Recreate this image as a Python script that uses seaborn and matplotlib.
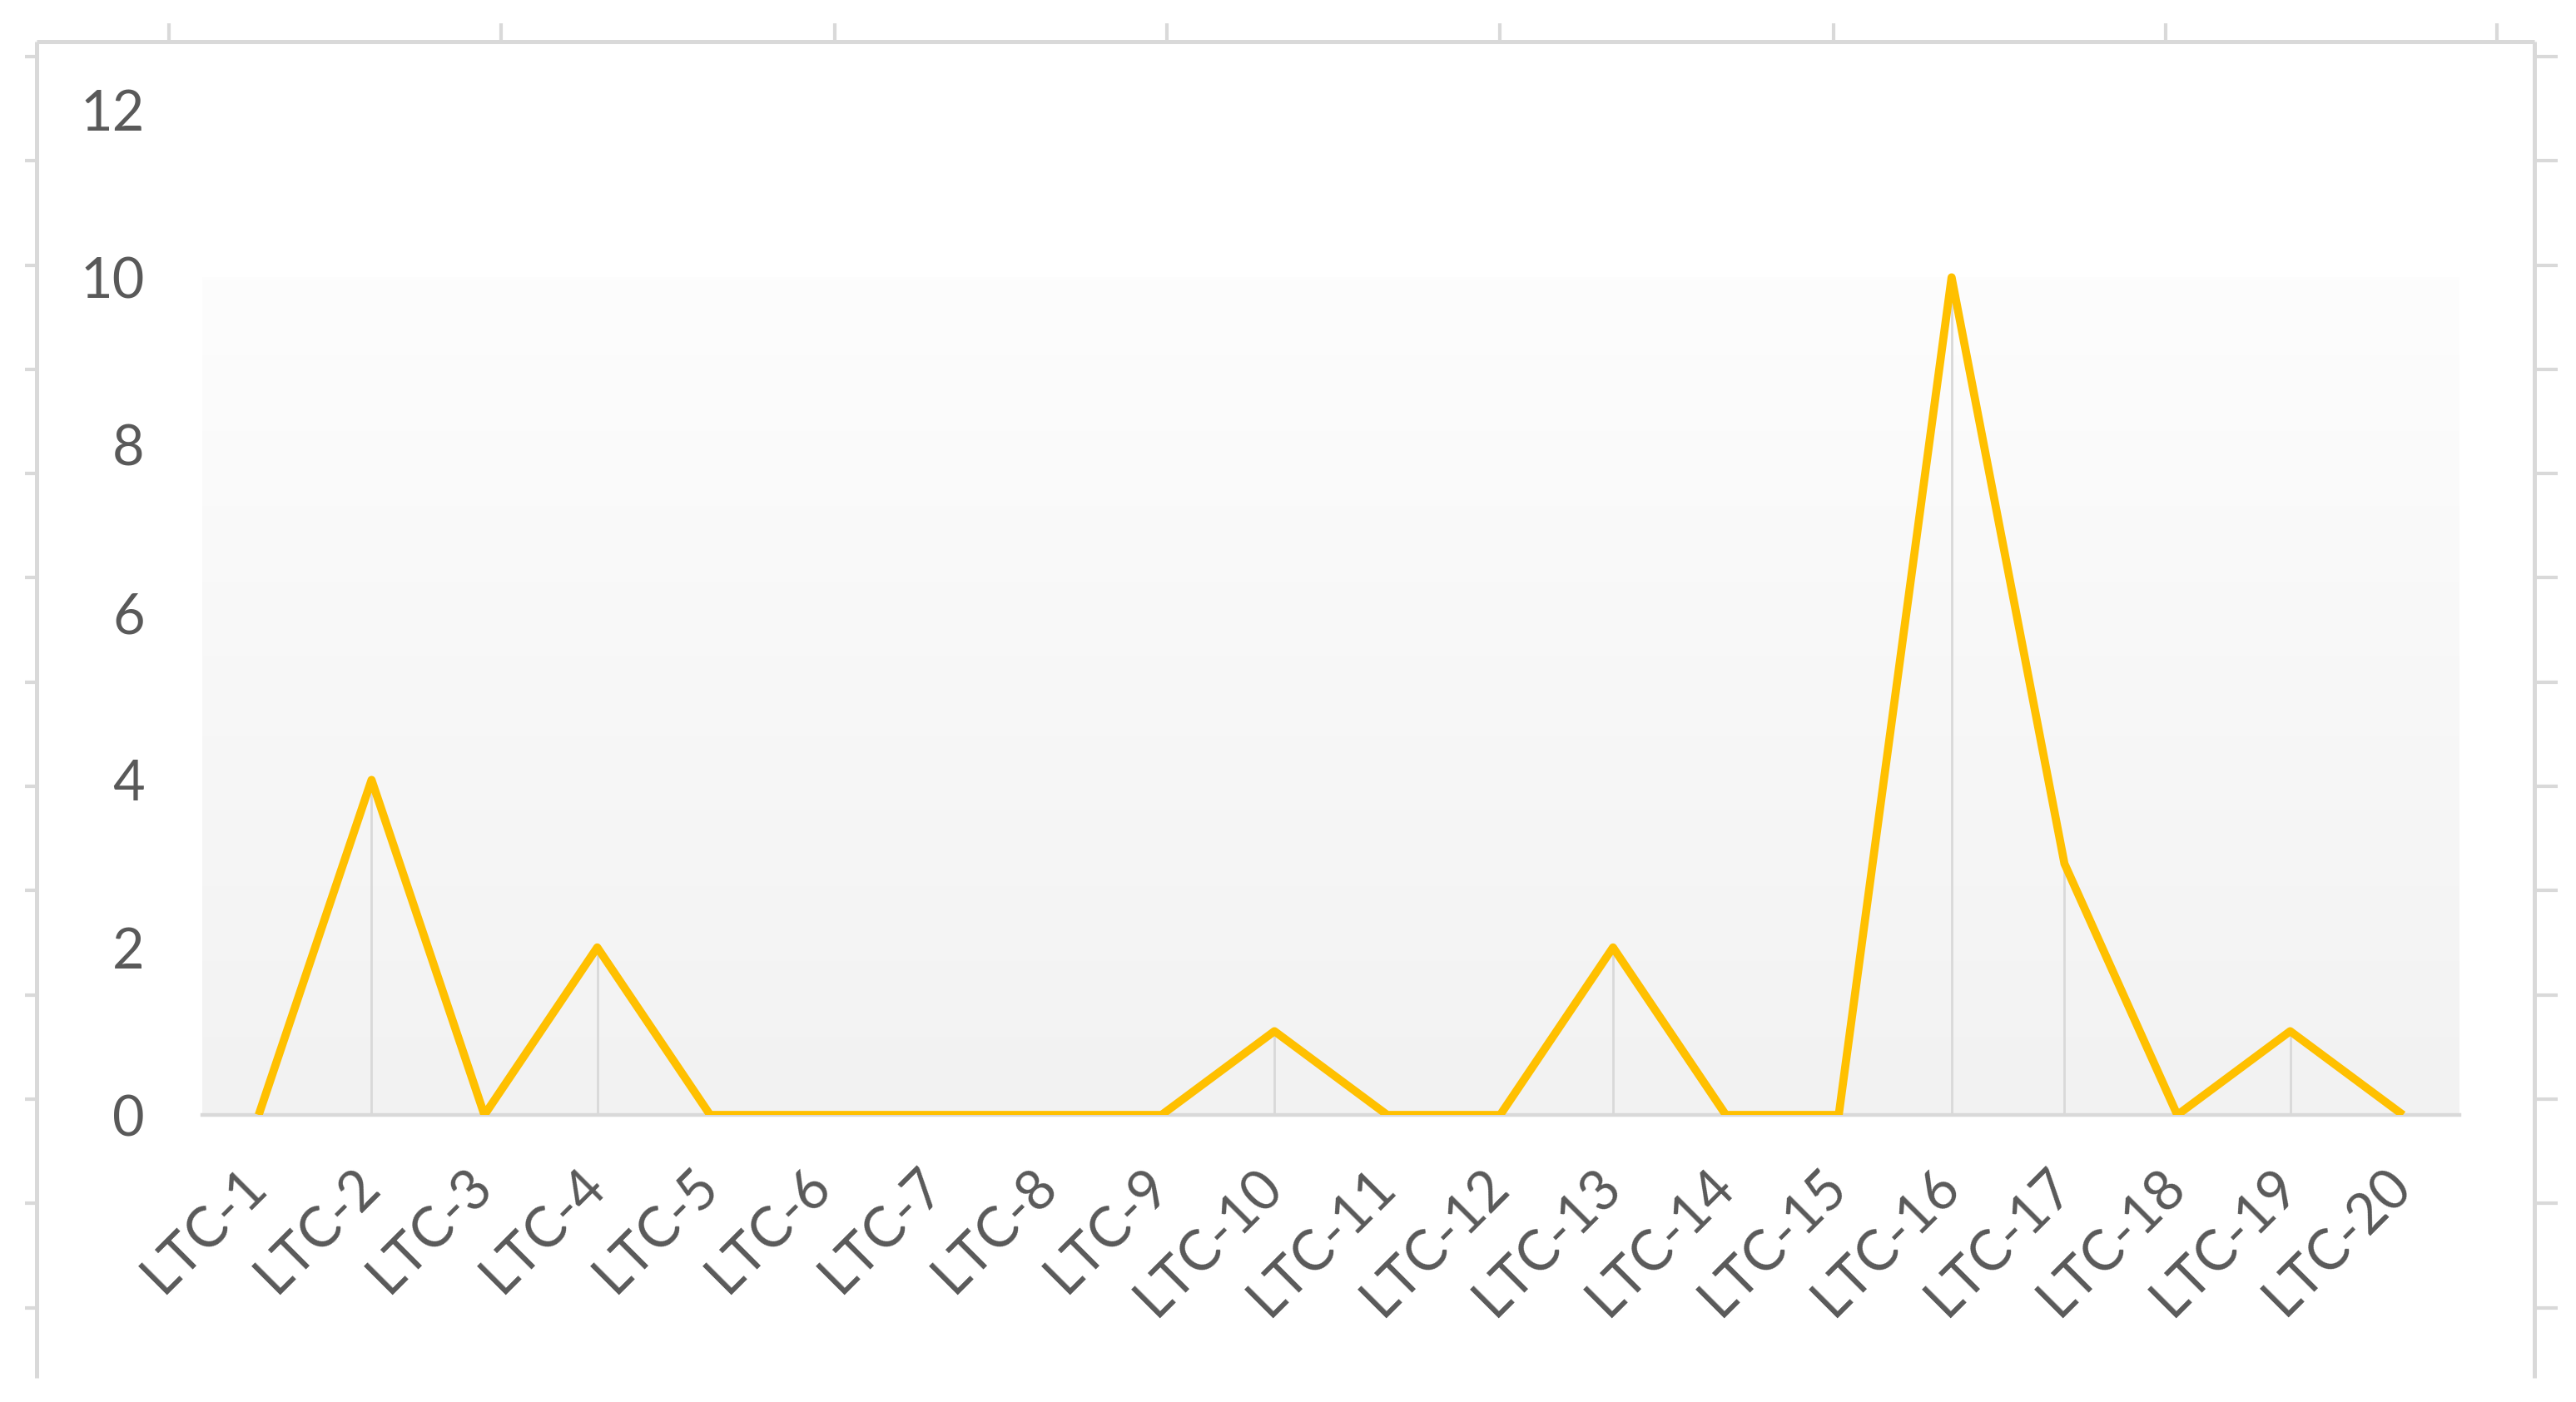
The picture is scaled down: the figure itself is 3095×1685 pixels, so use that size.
import numpy as np
import pandas as pd
import matplotlib.pyplot as plt
from matplotlib.lines import Line2D
import seaborn as sns

# ---- data ----
samples = [f"LTC-{i}" for i in range(1, 21)]
counts = [0, 4, 0, 2, 0, 0, 0, 0, 0, 1, 0, 0, 2, 0, 0, 10, 3, 0, 1, 0]
y_ticks = [0, 2, 4, 6, 8, 10, 12]

LINE_COLOR = "#FFC000"
GRID_GRAY = "#d9d9d9"
TEXT_GRAY = "#595959"

W, H, DPI = 3095, 1685, 200

sns.set_style("white")
plt.rcParams["font.family"] = ["Lato", "DejaVu Sans"]

df = pd.DataFrame({"sample": samples, "count": counts})

fig = plt.figure(figsize=(W / DPI, H / DPI), dpi=DPI)
fig.patch.set_facecolor("white")

# plot area in pixel terms -> figure fractions
left, right = 243, 2955
y0_px, y12_px = 1340, 132
ax = fig.add_axes([left / W, 1 - y0_px / H, (right - left) / W, (y0_px - y12_px) / H])
ax.set_facecolor("white")

# gradient plot-area fill (white at top -> light gray at the axis)
grad = np.linspace(0, 1, 256).reshape(-1, 1)
top_c = np.array([0xfd, 0xfd, 0xfd]) / 255
bot_c = np.array([0xf2, 0xf2, 0xf2]) / 255
img = top_c + (bot_c - top_c) * grad
ax.imshow(img.reshape(256, 1, 3), extent=(-0.5, len(samples) - 0.5, 0, 10),
          aspect="auto", origin="upper", zorder=0)

# drop lines
ax.vlines(range(len(samples)), 0, counts, colors=GRID_GRAY, linewidth=1.0, zorder=1)

sns.lineplot(data=df, x="sample", y="count", ax=ax, sort=False,
             color=LINE_COLOR, linewidth=3.5, zorder=3)
for ln in ax.lines:
    ln.set_solid_joinstyle("round")
    ln.set_solid_capstyle("butt")

ax.set_xlim(-0.5, len(samples) - 0.5)
ax.set_ylim(0, 12)
ax.set_yticks(y_ticks)
ax.set_yticklabels([str(v) for v in y_ticks])
ax.set_xticks(range(len(samples)))
ax.set_xticklabels(samples, rotation=45, ha="right", va="center", rotation_mode="anchor")
ax.set_xlabel("")
ax.set_ylabel("")
ax.tick_params(axis="y", length=0, pad=25, labelsize=24, labelcolor=TEXT_GRAY)
ax.tick_params(axis="x", length=0, pad=27, labelsize=24, labelcolor=TEXT_GRAY)
ax.grid(False)

for s in ["left", "right", "top"]:
    ax.spines[s].set_visible(False)
ax.spines["bottom"].set_color(GRID_GRAY)
ax.spines["bottom"].set_linewidth(1.6)
ax.spines["bottom"].set_zorder(2)


# ---- spreadsheet cell borders around the chart ----
def seg(x0, y0, x1, y1, lw=1.8):
    fig.add_artist(Line2D([x0 / W, x1 / W], [1 - y0 / H, 1 - y1 / H],
                          transform=fig.transFigure, color=GRID_GRAY,
                          linewidth=lw, solid_capstyle="butt"))


frame_l, frame_r, frame_t, frame_b = 44, 3045, 50, 1656
seg(frame_l, frame_t, frame_r, frame_t)
seg(frame_l, frame_t, frame_l, frame_b)
seg(frame_r, frame_t, frame_r, frame_b)

col_ticks = [203, 602, 1003, 1402, 1802, 2203, 2602, 3000]
for cx in col_ticks:
    seg(cx, 28, cx, frame_t, lw=1.5)

row_ticks = [68 + 125.3 * k for k in range(13)]
for ry in row_ticks:
    seg(30, ry, frame_l, ry, lw=1.5)
    seg(frame_r, ry, 3073, ry, lw=1.5)

fig.savefig("out.png", dpi=DPI, facecolor="white")
plt.close(fig)
